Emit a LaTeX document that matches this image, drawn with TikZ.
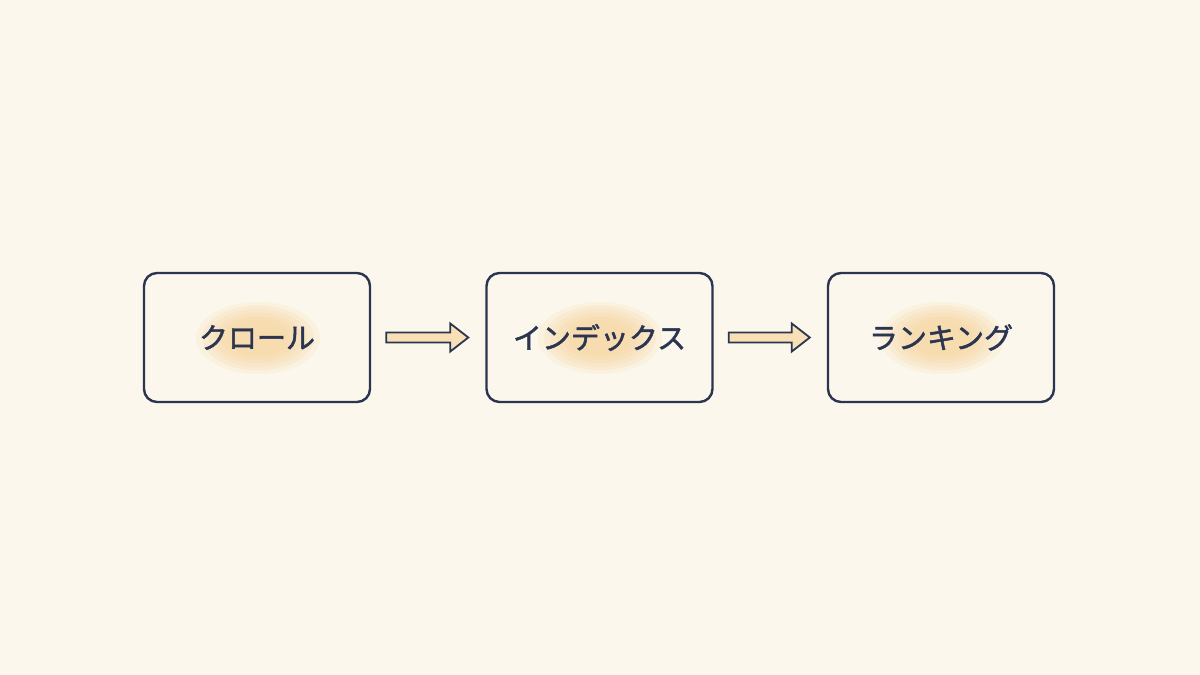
\documentclass[tikz,border=0pt]{standalone}
\usepackage{fontspec}
\newfontfamily\jp[FakeBold=1.6]{Noto Sans CJK JP}
\definecolor{bg}{HTML}{FBF7EC}
\definecolor{ink}{HTML}{2B3550}
\definecolor{glow}{HTML}{F7D49C}
\definecolor{arrowfill}{HTML}{F8DFB5}
\tikzset{
  x=1pt,y=1pt,
  stage/.style={draw=ink, line width=2.4pt, rounded corners=13pt, minimum width=226pt, minimum height=129pt, inner sep=0pt, fill=none},
  label/.style={font=\jp\fontsize{29}{31}\selectfont, text=ink, inner sep=0pt},
  blockarrow/.style={draw=ink, line width=1.8pt, fill=arrowfill, line join=miter},
}
\newcommand{\glowblob}[2]{%
  \foreach \s/\o in {1.0/0.16,0.9/0.18,0.8/0.2,0.7/0.22,0.6/0.24,0.5/0.2}{%
    \fill[glow, opacity=\o] (#1,#2) ellipse [x radius={62*\s}, y radius={36*\s}];
  }%
}
\begin{document}
\begin{tikzpicture}
\fill[bg] (0,0) rectangle (1200,675);
\useasboundingbox (0,0) rectangle (1200,675);
% glows
\glowblob{258}{337}
\glowblob{600}{337}
\glowblob{942}{337}
% boxes
\node[stage] (b1) at (257,337.5) {};
\node[stage] (b2) at (599.5,337.5) {};
\node[stage] (b3) at (941,337.5) {};
\node[label] (t1) at (b1.center) {クロール};
\node[label] (t2) at (b2.center) {インデックス};
\node[label] (t3) at (b3.center) {ランキング};
% arrows
\foreach \a/\b/\n in {b1/b2/1,b2/b3/2}{
  \coordinate (s\n) at ([xshift=15pt]\a.east);
  \coordinate (e\n) at ([xshift=-17pt]\b.west);
  \draw[blockarrow] ([yshift=5pt]s\n) -- ([xshift=-18pt,yshift=5pt]e\n) -- ([xshift=-18pt,yshift=14pt]e\n) -- (e\n) -- ([xshift=-18pt,yshift=-14pt]e\n) -- ([xshift=-18pt,yshift=-5pt]e\n) -- ([yshift=-5pt]s\n) -- cycle;
}
\end{tikzpicture}
\end{document}
